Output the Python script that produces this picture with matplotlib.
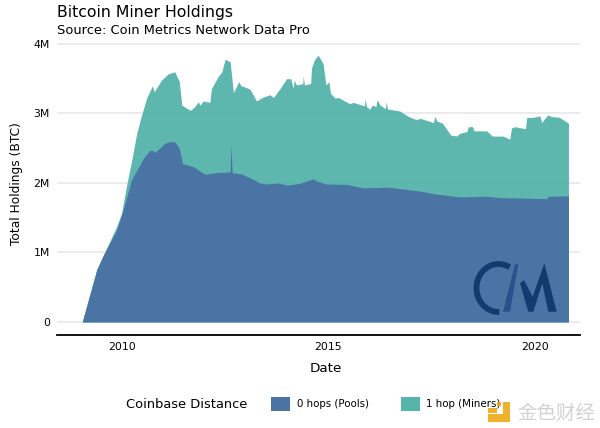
import matplotlib
matplotlib.use("Agg")
import matplotlib.pyplot as plt
from matplotlib.patches import Patch, Polygon, Arc, Rectangle, Circle

# values, holdings in millions of BTC
total_years = [2009.04, 2009.39, 2009.55, 2009.7, 2009.87, 2009.99, 2010.11, 2010.24, 2010.36, 2010.48, 2010.6,
               2010.74, 2010.78, 2010.96, 2011.12, 2011.28, 2011.39, 2011.45, 2011.61, 2011.66, 2011.75, 2011.78,
               2011.85, 2011.89, 2011.97, 2012.13, 2012.17, 2012.33, 2012.42, 2012.5, 2012.62, 2012.7, 2012.83,
               2012.88, 2012.94, 2013.1, 2013.26, 2013.4, 2013.58, 2013.67, 2013.83, 2013.99, 2014.09, 2014.15,
               2014.17, 2014.23, 2014.38, 2014.39, 2014.42, 2014.57, 2014.59, 2014.66, 2014.75, 2014.87, 2014.94,
               2015.01, 2015.05, 2015.16, 2015.24, 2015.52, 2015.6, 2015.87, 2015.89, 2015.92, 2016.0, 2016.06,
               2016.15, 2016.18, 2016.25, 2016.38, 2016.4, 2016.43, 2016.73, 2016.93, 2017.13, 2017.22,
               2017.54, 2017.58, 2017.62, 2017.76, 2017.96, 2018.1, 2018.18, 2018.35, 2018.39, 2018.49,
               2018.52, 2018.83, 2018.97, 2019.23, 2019.39, 2019.43, 2019.51, 2019.77, 2019.8, 2019.96,
               2020.12, 2020.16, 2020.31, 2020.4, 2020.59, 2020.81]
total_holdings = [0, 0.75, 0.96, 1.15, 1.37, 1.56, 1.95, 2.33, 2.715, 2.98, 3.22,
                  3.40, 3.31, 3.48, 3.57, 3.60, 3.46, 3.12, 3.06, 3.045, 3.09, 3.11,
                  3.17, 3.12, 3.18, 3.16, 3.36, 3.53, 3.60, 3.78, 3.745, 3.30, 3.46,
                  3.40, 3.39, 3.35, 3.18, 3.23, 3.27, 3.23, 3.36, 3.50, 3.50, 3.36,
                  3.48, 3.41, 3.43, 3.54, 3.41, 3.43, 3.65, 3.77, 3.84, 3.72, 3.41,
                  3.46, 3.29, 3.22, 3.23, 3.14, 3.16, 3.11, 3.21, 3.10, 3.06, 3.12,
                  3.10, 3.20, 3.12, 3.07, 3.17, 3.065, 3.035, 2.96, 2.91, 2.93,
                  2.87, 2.96, 2.895, 2.86, 2.69, 2.675, 2.715, 2.74, 2.81, 2.81,
                  2.75, 2.75, 2.675, 2.675, 2.63, 2.79, 2.81, 2.78, 2.94, 2.945,
                  2.965, 2.87, 2.98, 2.955, 2.945, 2.86]
pool_years = [2009.04, 2009.39, 2009.55, 2009.7, 2009.87, 2010.03, 2010.23, 2010.52, 2010.68, 2010.76,
              2010.8, 2011.04, 2011.16, 2011.28, 2011.39, 2011.47, 2011.73, 2012.01, 2012.29, 2012.62,
              2012.64, 2012.67, 2012.9, 2013.22, 2013.34, 2013.5, 2013.79, 2013.99, 2014.31, 2014.63,
              2014.71, 2014.95, 2015.44, 2015.84, 2016.45, 2017.2, 2017.62, 2018.18, 2018.83, 2019.15,
              2020.28, 2020.32, 2020.81]
pool_holdings = [0, 0.75, 0.96, 1.13, 1.32, 1.61, 2.04, 2.355, 2.47, 2.465,
                 2.44, 2.57, 2.595, 2.595, 2.50, 2.28, 2.235, 2.125, 2.15, 2.16,
                 2.56, 2.15, 2.13, 2.04, 2.0, 1.985, 2.0, 1.97, 1.995, 2.06,
                 2.03, 1.985, 1.98, 1.93, 1.94, 1.885, 1.84, 1.80, 1.81, 1.79,
                 1.775, 1.81, 1.815]
y_ticks = [0, 1, 2, 3, 4]
y_labels = ["0", "1M", "2M", "3M", "4M"]
x_ticks = [2010, 2015, 2020]

blue = "#4a72a3"
teal = "#56b4ab"

fig = plt.figure(figsize=(6, 4.28), dpi=100)
ax = fig.add_axes([57 / 600, 1 - 335 / 428, 523 / 600, 297 / 428])

ax.fill_between(total_years, 0, total_holdings, color=teal, linewidth=0, alpha=0.96, zorder=2)
ax.fill_between(pool_years, 0, pool_holdings, color=blue, linewidth=0, alpha=0.96, zorder=3)

ax.set_xlim(2008.43, 2021.09)
ax.set_ylim(-0.187, 4.086)
ax.set_yticks(y_ticks, y_labels)
ax.set_xticks(x_ticks)
ax.tick_params(length=0, labelsize=7.8, pad=5)
ax.grid(axis="y", color="#e8e8e8", linewidth=1.2, zorder=1)
ax.set_axisbelow(True)
for side in ["top", "left", "right"]:
    ax.spines[side].set_visible(False)
ax.spines["bottom"].set_linewidth(1.3)

fig.text(325.5 / 600, 1 - 368 / 428, "Date", fontsize=9.7, ha="center", va="center")
fig.text(16.5 / 600, 1 - 183.5 / 428, "Total Holdings (BTC)", fontsize=8.8, rotation=90, ha="center", va="center")

fig.text(57 / 600, 1 - 13 / 428, "Bitcoin Miner Holdings", fontsize=11.3, va="center")
fig.text(57 / 600, 1 - 30 / 428, "Source: Coin Metrics Network Data Pro", fontsize=9.4, va="center")

# legend
fig.text(126.5 / 600, 1 - 405 / 428, "Coinbase Distance", fontsize=9.4, va="center")
handles = [Patch(facecolor=blue, edgecolor="none"), Patch(facecolor=teal, edgecolor="none")]
leg = fig.legend(handles, ["0 hops (Pools)", "1 hop (Miners)"], ncol=2, frameon=False, fontsize=7.4,
                 loc="center left", bbox_to_anchor=(262 / 600, 1 - 404 / 428), handlelength=1.85, handleheight=1.8,
                 handletextpad=0.65, columnspacing=3.1)
leg.set_zorder(1)

# overlay in pixel coordinates for the logo and the watermark
over = fig.add_axes([0, 0, 1, 1], zorder=5)
over.set_xlim(0, 600)
over.set_ylim(428, 0)
over.axis("off")

navy = "#103c70"
over.add_patch(Arc((498.5, 288), 44, 48, theta1=88, theta2=298, color=navy, linewidth=4.2))
over.add_patch(Polygon([(503, 311.7), (510, 311.7), (518.3, 264.3), (515, 264.3)], color="#27528c", linewidth=0))
over.add_patch(Polygon([(520, 283.3), (524, 280), (532.7, 296.7), (544.3, 263.3), (556.7, 311.7), (548.3, 311.7),
                        (542.3, 283.3), (533.3, 311.7), (528.3, 311.7)], color=navy, linewidth=0))

orange = "#f0b030"
over.add_patch(Polygon([(488, 422), (488, 414), (503, 414), (503, 402), (510, 402), (510, 422)],
                       color=orange, linewidth=0))
over.add_patch(Rectangle((488, 408), 9, 5, color=orange, linewidth=0))
over.add_patch(Circle((499, 404), 2.2, color="#e8a020", linewidth=0))
over.text(556, 413, "金色财经", family=["Noto Sans CJK SC", "DejaVu Sans"], fontsize=14, color="#d2d2d2",
          ha="center", va="center")

fig.savefig("out.png", dpi=100)
